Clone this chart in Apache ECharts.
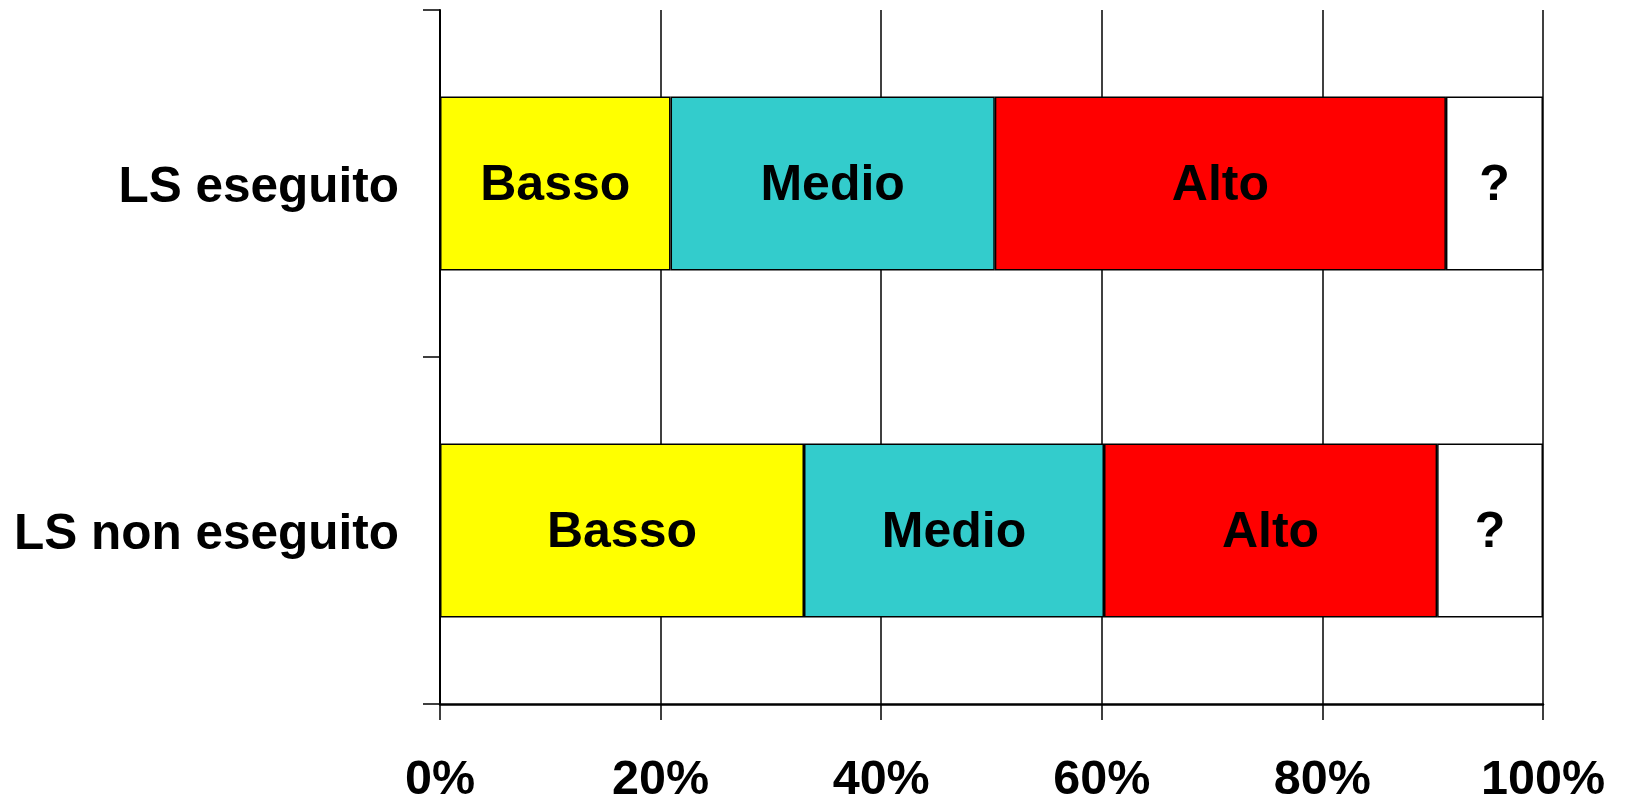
<!DOCTYPE html>
<html>
<head>
<meta charset="utf-8">
<script src="https://cdn.jsdelivr.net/npm/echarts@6/dist/echarts.min.js"></script>
<style>
html,body{margin:0;padding:0;background:#fff;}
#chart{width:1626px;height:803px;}
</style>
</head>
<body>
<div id="chart"></div>
<script>
const categories = ['LS eseguito', 'LS non eseguito'];
const seriesNames = ['Basso', 'Medio', 'Alto', '?'];
const basso = [20.9, 33.0];
const medio = [29.4, 27.2];
const alto = [40.9, 30.2];
const unknown = [8.8, 9.6];
const xTicks = [0, 20, 40, 60, 80, 100];

const colors = ['#FFFF00', '#33CCCC', '#FF0000', '#FFFFFF'];
const values = [basso, medio, alto, unknown];
const FONT = '"Liberation Sans", Arial, sans-serif';

const chart = echarts.init(document.getElementById('chart'), null, {renderer: 'canvas'});
chart.setOption({
  backgroundColor: '#fff',
  animation: false,
  grid: {left: 440, right: 83, top: 10, bottom: 99, containLabel: false, outerBoundsMode: 'none'},
  xAxis: {
    type: 'value', min: xTicks[0], max: xTicks[xTicks.length - 1], interval: 20,
    axisLine: {show: true, lineStyle: {color: '#000', width: 2.5}},
    axisTick: {show: true, length: 16, lineStyle: {color: '#000', width: 1.5}},
    splitLine: {show: true, lineStyle: {color: '#000', width: 1.5}},
    axisLabel: {
      margin: 52, color: '#000', fontSize: 48.5, fontWeight: 'bold', fontFamily: FONT,
      formatter: v => v + '%'
    }
  },
  yAxis: {
    type: 'category', data: categories, inverse: true,
    axisLine: {show: true, lineStyle: {color: '#000', width: 2}},
    axisTick: {show: true, length: 17, lineStyle: {color: '#000', width: 1.5}},
    axisLabel: {
      margin: 41, color: '#000', fontSize: 49.5, fontWeight: 'bold', fontFamily: FONT,
      formatter: v => '{a|' + v + '}',
      rich: {a: {fontSize: 49.5, fontWeight: 'bold', fontFamily: FONT, color: '#000', padding: [10, 0, 0, 0]}}
    }
  },
  series: seriesNames.map((name, i) => ({
    name: name,
    type: 'bar',
    stack: 'total',
    barCategoryGap: '49.8%',
    data: values[i],
    itemStyle: {color: colors[i], borderColor: '#000', borderWidth: 1.5},
    label: {
      show: true, position: 'inside', formatter: name, offset: [0, 3],
      color: '#000', fontSize: 50, fontWeight: 'bold', fontFamily: FONT
    }
  }))
});
</script>
</body>
</html>
